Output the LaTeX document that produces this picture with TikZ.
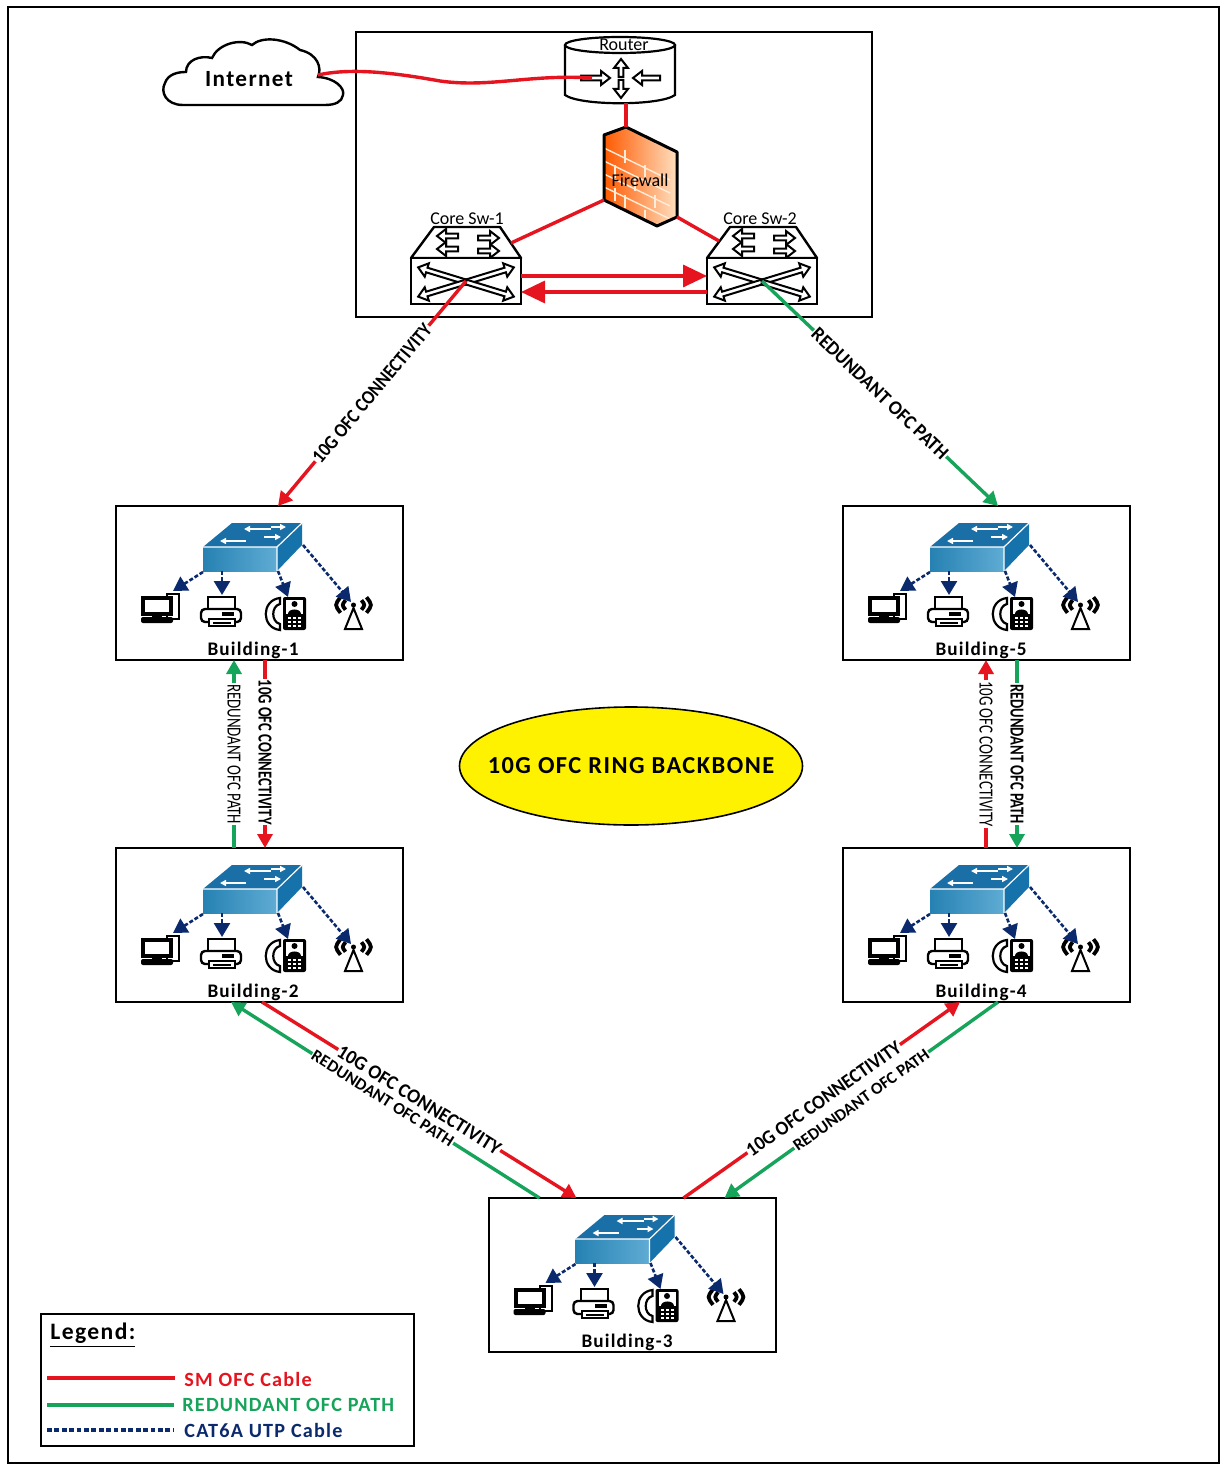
\documentclass[tikz,border=0pt]{standalone}
\usepackage{graphicx}
\usepackage{fontspec}
\setmainfont{Carlito}
\newfontfamily\widefont[LetterSpace=6]{Carlito}
\usetikzlibrary{arrows.meta,calc,shapes.geometric}
\definecolor{ored}{HTML}{E5141E}
\definecolor{ogreen}{HTML}{16A45A}
\definecolor{onavy}{HTML}{0B2A6E}
\definecolor{swtop}{HTML}{1A6FA6}
\definecolor{swfront}{HTML}{2A90C6}
\definecolor{swright}{HTML}{1672AB}
\newcommand{\lab}[3]{\resizebox{\dimexpr #1pt/2\relax}{\dimexpr #2pt/2\relax}{\bfseries #3}}
\newcommand{\labn}[3]{\resizebox{\dimexpr #1pt/2\relax}{\dimexpr #2pt/2\relax}{#3}}
\newcommand{\oarr}[4]{\begin{scope}[shift={(#1,#2)},rotate=#3]
 \draw[line width=1pt,fill=white,line join=miter] (0,-2.4)--(#4-9,-2.4)--(#4-9,-7)--(#4,0)--(#4-9,7)--(#4-9,2.4)--(0,2.4)--cycle;
\end{scope}}
\newcommand{\coreicon}[2]{\begin{scope}[shift={(#1,#2)}]
 % origin = centre of the front face
 \draw[line width=1.2pt,line join=round,fill=white] (-55,-23)--(-32,-54)--(34,-54)--(55,-23)--cycle;
 \oarr{-8}{-45}{180}{21}\oarr{-8}{-32}{180}{21}
 \oarr{12}{-43}{0}{21}\oarr{12}{-30}{0}{21}
 \draw[line width=1.2pt,fill=white] (-55,-23) rectangle (55,23);
 \oarr{0}{1}{163}{50}\oarr{0}{1}{-163}{50}\oarr{0}{1}{17}{50}\oarr{0}{1}{-17}{50}
\end{scope}}
\tikzset{
 bldbox/.style={draw=black,line width=1pt,minimum width=143.5pt,minimum height=77pt,inner sep=0pt,outer sep=0pt},
 redl/.style={draw=ored,line width=1.7pt},
 redarr/.style={redl,-{Triangle[length=7pt,width=7.5pt]}},
 grnl/.style={draw=ogreen,line width=1.7pt},
 grnarr/.style={grnl,-{Triangle[length=7pt,width=7.5pt]}},
 bigarr/.style={redl,-{Triangle[length=12pt,width=11pt]}},
 catarr/.style={draw=onavy,line width=1.3pt,dash pattern=on 2pt off 1pt,-{Triangle[length=7pt,width=8pt,sep=0pt]}},
 slab/.style={sloped,fill=white,inner sep=0.4pt,text=black},
 vlab/.style={rotate=-90,fill=white,inner sep=0.4pt,text=black},
 iconb/.style={line width=1pt,draw=black,fill=white},
 bldicons/.pic={
  % switch
  \fill[swtop] (87,41)--(116,17)--(186,17)--(161,41)--cycle;
  \shade[left color=swfront!90!black,right color=swfront!75!white] (87,41) rectangle (161,65);
  \fill[swright] (161,41)--(186,17)--(186,39)--(161,65)--cycle;
  \draw[white,line width=.6pt] (87,41)--(161,41)--(186,17) (161,41)--(161,65);
  \draw[white,line width=.8pt,-{Triangle[length=3pt,width=3pt]}] (155,23)--(128,23);
  \draw[white,line width=.8pt,-{Triangle[length=3pt,width=3pt]}] (148,31)--(165,31);
  \draw[white,line width=.8pt,-{Triangle[length=3pt,width=3pt]}] (130,35)--(104,35);
  \draw[white,line width=.8pt,-{Triangle[length=3pt,width=3pt]}] (155,21)--(170,21);
  % pc
  \draw[iconb] (51,88) rectangle (63,113);
  \draw[line width=2pt,draw=black,fill=white] (27,92) rectangle (55,108);
  \fill[black] (36,108) rectangle (46,112);
  \fill[black,rounded corners=1pt] (25,111) rectangle (57,117);
  % printer
  \draw[iconb] (92,91) rectangle (119,104);
  \draw[line width=1.2pt,draw=black,fill=white,rounded corners=2pt] (85,103) rectangle (125,116);
  \draw[iconb] (93,113) rectangle (119,120);
  \draw[line width=.7pt] (97,117)--(115,117);
  \fill[black] (106,106) rectangle (118,110);
  % phone
  \fill[black,rounded corners=1pt] (167,91) rectangle (190,124);
  \fill[white] (170,94) rectangle (187,108);
  \fill[black] (178.5,98) circle (3);
  \fill[black] (172,108) .. controls (172,102) and (185,102) .. (185,108) -- cycle;
  \foreach \a in {172,177,182}\foreach \b in {111,115,119}{\fill[white] (\a,\b) rectangle ++(3,2);}
  \draw[line width=1.1pt,fill=white] (164,92) .. controls (145,94) and (145,122) .. (164,124) -- (164,118) .. controls (155,116) and (155,100) .. (164,98) -- cycle;
  % antenna
  \draw[line width=1pt,fill=white] (229,123)--(246,123)--(237.5,102)--cycle;
  \fill[black] (237.5,99) circle (2.5);
  \foreach \s/\r in {1/8,1/13,-1/8,-1/13}{
   \draw[line width=1.9pt] ($(237.5,99)+(\s*\r,-\r*.6)$) .. controls ($(237.5,99)+(\s*\r*1.45,0)$) .. ($(237.5,99)+(\s*\r,\r*.6)$);}
  % cables
  \draw[catarr] (87,66)--(57,85);
  \draw[catarr] (106,65)--(106,89);
  \draw[catarr] (162,65)--(172,91);
  \draw[catarr] (187,39)--(235,96);
 }
}
\begin{document}
\begin{tikzpicture}[x=0.5pt,y=-0.5pt]
\useasboundingbox (0,0) rectangle (1227,1465);
\fill[white] (0,0) rectangle (1227,1465);
\draw[line width=1pt] (8,7) rectangle (1219,1463);
\node[draw=black,line width=1pt,minimum width=258pt,minimum height=142.5pt,inner sep=0pt,outer sep=0pt] (core) at (614,174.5) {};

% cloud
\draw[line width=1.2pt,fill=white] (183,105) .. controls (166,105) and (160,92) .. (165,83)
 .. controls (168,74) and (178,72) .. (186,72) .. controls (186,60) and (200,55) .. (212,58)
 .. controls (218,44) and (240,38) .. (252,45) .. controls (262,36) and (285,38) .. (300,50)
 .. controls (318,54) and (322,68) .. (318,77) .. controls (335,78) and (345,88) .. (343,95)
 .. controls (342,102) and (335,105) .. (325,105) -- cycle;
\node[inner sep=0pt] (inet) at (249,79) {\widefont\bfseries\fontsize{11.6}{12}\selectfont Internet};

% router
\node[inner sep=0pt,minimum width=55pt,minimum height=33pt] (router) at (620,70) {};
\draw[line width=1.1pt,fill=white] (565,45) -- (565,95) .. controls (580,106) and (660,106) .. (675,95) -- (675,45);
\draw[line width=1.1pt,fill=white] (620,45) ellipse [x radius=55,y radius=8];
\node[inner sep=0pt] (rlabel) at (624,45) {\fontsize{9}{9}\selectfont Router};
\oarr{621}{77}{90}{18}
\oarr{621}{80}{-90}{18}
\oarr{581}{78}{0}{29}
\oarr{660}{78}{180}{27}

% firewall
\coordinate (fwtop) at (626,127);
\coordinate (fwl) at (604,200);
\coordinate (fwr) at (677,217);
\begin{scope}
 \clip (604,135)--(626,127)--(677,152)--(677,217)--(657,226)--(604,200)--cycle;
 \shade[left color=orange!70!red,right color=orange!25!white] (604,127) rectangle (677,226);
 \foreach \k in {148,161,174,187,200}{\draw[white!85!orange,line width=.7pt] (604,\k)--(670,{\k+32});}
 \foreach \xx/\k in {625/150,645/165,615/165,635/178,655/195,625/195,645/210,615/188}{\draw[white!85!orange,line width=.7pt] (\xx,\k)--++(0,13);}
\end{scope}
\draw[line width=1.5pt,line join=round] (604,135)--(626,127)--(677,152)--(677,217)--(657,226)--(604,200)--cycle;
\node[inner sep=0pt] (fw) at (640,180) {\fontsize{9}{9}\selectfont Firewall};

% core switches
\coreicon{466}{281}
\coreicon{762}{281}
\node[inner sep=0pt,outer sep=0pt,minimum width=55pt,minimum height=23pt] (s1) at (466,281) {};
\node[inner sep=0pt,outer sep=0pt,minimum width=55pt,minimum height=23pt] (s2) at (762,281) {};
\node[inner sep=0pt] (s1l) at (467,219) {\fontsize{9}{9}\selectfont Core Sw-1};
\node[inner sep=0pt] (s2l) at (760,219) {\fontsize{9}{9}\selectfont Core Sw-2};

% buildings
\node[bldbox] (b1) at (259.5,583) {};
\node[bldbox] (b5) at (986.5,583) {};
\node[bldbox] (b2) at (259.5,925) {};
\node[bldbox] (b4) at (986.5,925) {};
\node[bldbox] (b3) at (632,1275) {};
\pic at (b1.north west) {bldicons};
\pic at (b5.north west) {bldicons};
\pic at (b2.north west) {bldicons};
\pic at (b4.north west) {bldicons};
\pic at (b3.north west) {bldicons};
\node[inner sep=0pt] (l1) at (253,650) {\widefont\bfseries\fontsize{9.6}{9}\selectfont Building-1};
\node[inner sep=0pt] (l5) at (981,650) {\widefont\bfseries\fontsize{9.6}{9}\selectfont Building-5};
\node[inner sep=0pt] (l2) at (253,992) {\widefont\bfseries\fontsize{9.6}{9}\selectfont Building-2};
\node[inner sep=0pt] (l4) at (981,992) {\widefont\bfseries\fontsize{9.6}{9}\selectfont Building-4};
\node[inner sep=0pt] (l3) at (627,1342) {\widefont\bfseries\fontsize{9.6}{9}\selectfont Building-3};

% ellipse
\node[draw=black,line width=.8pt,fill=yellow,ellipse,inner sep=0pt,minimum width=171.5pt,minimum height=59pt] (ring) at (631,766) {\makebox[0pt]{\widefont\bfseries\fontsize{12.2}{12}\selectfont 10G OFC RING BACKBONE}};

% internal connectors
\draw[redl] (318,75) .. controls (350,68) and (390,72) .. (440,81) .. controls (490,88) and (530,74) .. (592,78);
\draw[redl] ($(router.south)+(6,0)$) -- (fwtop);
\draw[redl] (fwl) -- ($(s1.north east)+(-10,-15)$);
\draw[redl] (fwr) -- ($(s2.north west)+(12,-17)$);
\draw[bigarr] ($(s1.east)+(0,-5)$) -- ($(s2.west)+(0,-5)$);
\draw[bigarr] ($(s2.west)+(0,11)$) -- ($(s1.east)+(0,11)$);

% backbone
\draw[redarr] (s1.center) -- node[slab,pos=.5]{\lab{175}{13}{10G OFC CONNECTIVITY}} ($(b1.north west)+(162,0)$);
\draw[grnarr] (s2.center) -- node[slab,pos=.5]{\lab{181}{13}{REDUNDANT OFC PATH}} ($(b5.north west)+(155,0)$);
\draw[grnarr] ($(b2.north west)+(118,0)$) -- node[vlab,pos=.5]{\labn{140}{13}{REDUNDANT OFC PATH}} ($(b1.south west)+(118,0)$);
\draw[redarr] ($(b1.south west)+(149,0)$) -- node[vlab,pos=.49]{\lab{145}{13}{10G OFC CONNECTIVITY}} ($(b2.north west)+(149,0)$);
\draw[redarr] ($(b4.north west)+(143,0)$) -- node[vlab,pos=.5]{\labn{146}{13}{10G OFC CONNECTIVITY}} ($(b5.south west)+(143,0)$);
\draw[grnarr] ($(b5.south west)+(174,0)$) -- node[vlab,pos=.5]{\lab{140}{13}{REDUNDANT OFC PATH}} ($(b4.north west)+(174,0)$);
\draw[redarr] ($(b2.south west)+(146,0)$) -- node[slab,pos=.5]{\lab{189}{13}{10G OFC CONNECTIVITY}} ($(b3.north west)+(88,0)$);
\draw[grnarr] ($(b3.north west)+(51,0)$) -- node[slab,pos=.508]{\lab{165}{11}{REDUNDANT OFC PATH}} ($(b2.south west)+(115,0)$);
\draw[redarr] ($(b3.north west)+(195,0)$) -- node[slab,pos=.507]{\lab{185}{13}{10G OFC CONNECTIVITY}} ($(b4.south west)+(117,0)$);
\draw[grnarr] ($(b4.south west)+(155,0)$) -- node[slab,pos=.5]{\lab{163}{11}{REDUNDANT OFC PATH}} ($(b3.north west)+(236,0)$);

% legend
\node[draw=black,line width=1pt,minimum width=186.5pt,minimum height=66pt,inner sep=0pt,outer sep=0pt] (legend) at (227.5,1380) {};
\node[anchor=west,inner sep=0pt] (lgt) at (50,1335) {\widefont\bfseries\fontsize{11.8}{12}\selectfont\underline{Legend:}};
\node[anchor=west,inner sep=0pt,text=ored] (lg1) at (184,1379) {\widefont\bfseries\fontsize{10.1}{10}\selectfont SM OFC Cable};
\node[anchor=west,inner sep=0pt,text=ogreen] (lg2) at (182,1405) {\widefont\bfseries\fontsize{10.1}{10}\selectfont REDUNDANT OFC PATH};
\node[anchor=west,inner sep=0pt,text=onavy] (lg3) at (184,1430) {\widefont\bfseries\fontsize{10.1}{10}\selectfont CAT6A UTP Cable};
\coordinate (lr) at (47,1378);
\coordinate (lgc) at (47,1405);
\coordinate (ln) at (47,1430);
\draw[redl] (lr) -- ($(lg1.west)+(-9,-1)$);
\draw[grnl] (lgc) -- ($(lg2.west)+(-8,0)$);
\draw[draw=onavy,line width=1.8pt,dash pattern=on 2.4pt off 1.3pt] (ln) -- ($(lg3.west)+(-10,0)$);
\end{tikzpicture}
\end{document}
